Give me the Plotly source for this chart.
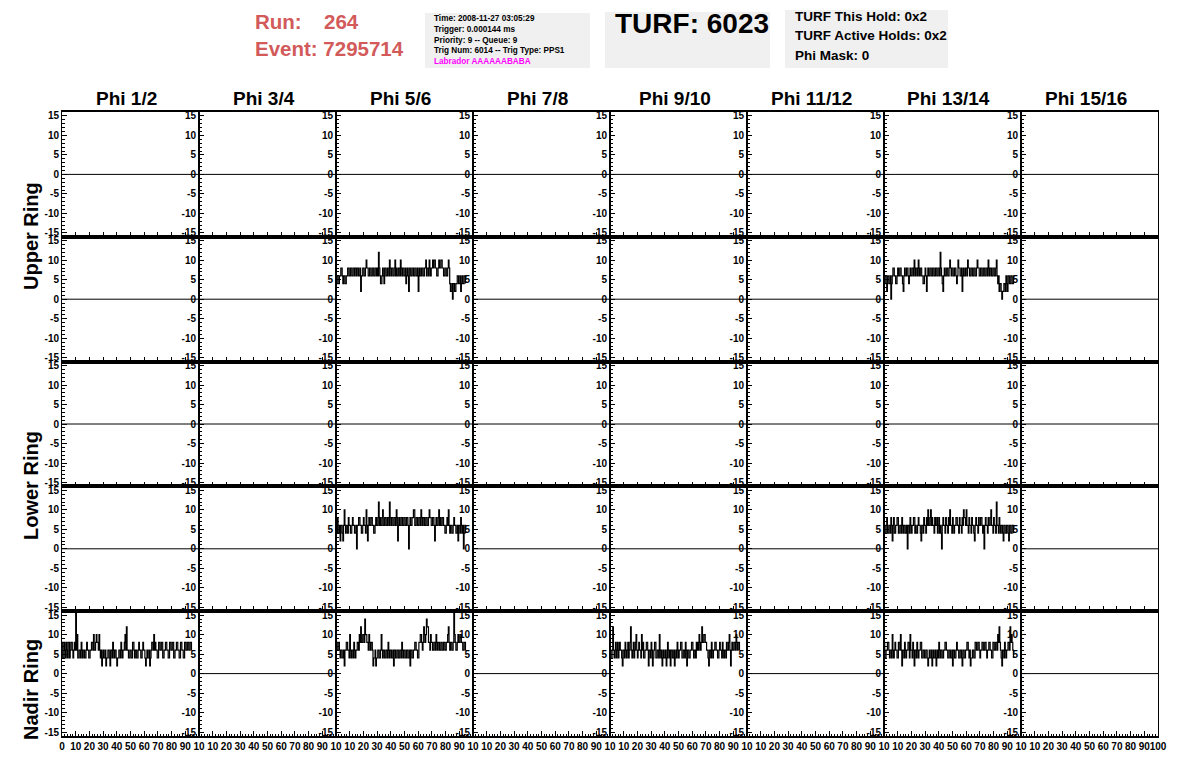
import plotly.graph_objects as go

# The page body keeps its default 8px margin, so the figure is drawn 8px in
# from the window corner; reference pixel p maps to figure pixel p - OFF.
WIN_W, WIN_H = 1196, 772
OFF = 8
FW, FH = WIN_W - 2 * OFF, WIN_H - 2 * OFF

# ---------------- data ----------------
phi_labels = ["Phi 1/2", "Phi 3/4", "Phi 5/6", "Phi 7/8",
              "Phi 9/10", "Phi 11/12", "Phi 13/14", "Phi 15/16"]
ring_labels = ["Upper Ring", "Lower Ring", "Nadir Ring"]

y_ticks = [-15, -10, -5, 0, 5, 10, 15]
y_text = ["-15", "-10", "-5", "0", "5", "10", "15"]
x_ticks = [0, 10, 20, 30, 40, 50, 60, 70, 80, 90, 100]
x_text_first = ["0", "10", "20", "30", "40", "50", "60", "70", "80", "90", "10"]
x_text_mid = ["", "10", "20", "30", "40", "50", "60", "70", "80", "90", "10"]
x_text_last = ["", "10", "20", "30", "40", "50", "60", "70", "80", "90", "100"]

sample_step = 0.5
flat_x = [0, 100]
flat_y = [0, 0]

upper2_phi56 = [
    4, 6, 6, 4, 4, 6, 6, 8, 8, 6, 4, 6, 6, 4, 4, 6,
    6, 8, 8, 6, 6, 8, 8, 6, 6, 8, 8, 6, 8, 8, 6, 8, 8, 6, 6, 8,
    2, 6,
    6, 8, 8, 6, 6, 8, 10, 8, 8, 6, 6, 8,
    8, 6, 6, 8, 8, 6, 6, 8, 8, 6, 8, 6,
    12, 8,
    6, 4, 4, 6, 8, 6, 4, 8,
    8, 6, 6, 8, 8, 6, 10, 8, 6, 8, 8, 6, 6, 8, 10, 6, 8, 6,
    6, 8, 8, 6, 10, 8, 6, 8, 8, 6, 6, 8, 4, 6, 8, 6,
    2, 8,
    8, 6, 6, 8, 8, 6, 6, 8, 8, 6, 6, 8,
    2, 6,
    8, 6, 6, 8, 8, 6, 6, 8, 8, 10, 6, 8, 8, 6, 10, 8, 6, 8, 8, 10,
    8, 10, 10, 8, 8, 6, 6, 8, 10, 8, 8, 10, 10, 8, 8, 6, 6, 8, 8, 6, 6, 8, 10, 8,
    4, 2, 2, 4, 0, 4, 4, 2, 2, 4, 4, 6,
    6, 4, 4, 6, 2, 4, 6, 4, 4, 6, 6, 4]

upper2_phi1314 = [
    4, 6, 6, 4, 2, 6, 6, 4, 4, 6, 0, 4,
    6, 8, 8, 6, 6, 4, 4, 6, 8, 6, 6, 8, 8, 6, 6, 4,
    2, 6,
    8, 6, 6, 8, 8, 6, 4, 6, 8, 6, 6, 8, 8, 6,
    10, 8,
    6, 8, 8, 6, 10, 8, 6, 8, 8, 6, 6, 4, 4, 6, 8, 6,
    2, 6,
    8, 6, 6, 8, 8, 6, 6, 8, 8, 6, 6, 8, 8, 6, 6, 8, 8, 6,
    12, 8,
    6, 4, 2, 6, 8, 6, 6, 8, 8, 6, 6, 8,
    10, 8,
    6, 8, 8, 6, 6, 8, 8, 6, 4, 6,
    10, 8,
    8, 6, 6, 8, 2, 6, 8, 6, 6, 8, 8, 6,
    10, 8,
    8, 6, 6, 8, 8, 6, 6, 8, 8, 6, 6, 8,
    10, 8,
    8, 6, 6, 8, 8, 6, 6, 8, 8, 6, 6, 8, 8, 6, 10, 8, 6, 8, 8, 6, 6, 8, 8, 6, 6, 8,
    10, 6,
    4, 6, 2, 4, 4, 2, 0, 2, 2, 4, 4, 2, 6, 4, 2, 6, 6, 4, 4, 6, 6, 4, 4, 6]

lower2_phi56 = [
    6, 4, 8, 6, 4, 6, 2, 6, 6, 4, 2, 6,
    10, 6,
    4, 6, 6, 4, 8, 6, 6, 4, 4, 6, 8, 6, 6, 4, 4, 6,
    0, 6,
    6, 8, 8, 6, 6, 4, 4, 6, 8, 6, 6, 4,
    10, 6, 2, 6,
    8, 6, 6, 8, 8, 6, 6, 4, 4, 6, 8, 6, 6, 8,
    12, 6,
    8, 6, 6, 8, 10, 6, 6, 8, 8, 6, 6, 8, 8, 6,
    12, 8,
    6, 8, 8, 6, 6, 8, 8, 6, 10, 8,
    2, 6,
    8, 6, 6, 8, 8, 6, 6, 8, 8, 6, 6, 8, 8, 6,
    0, 6,
    8, 6, 6, 8, 8, 10, 10, 6, 6, 8, 8, 6,
    6, 8, 8, 6, 10, 8, 6, 8, 8, 6, 6, 8, 8, 6, 6, 8, 10, 8, 8, 6, 6, 8, 8, 6,
    2, 6,
    8, 6, 6, 8, 10, 6, 8, 6, 6, 8, 8, 6, 6, 4, 4, 6, 8, 6,
    10, 6,
    4, 6, 6, 4, 4, 6, 8, 6, 6, 4, 4, 6, 2, 6, 6, 4, 8, 6, 4, 6,
    0, 4, 6, 4]

lower2_phi1314 = [
    6, 4, 4, 6, 8, 4, 4, 6, 6, 4, 8, 6,
    2, 6,
    8, 4, 4, 6, 6, 8, 8, 4, 4, 6, 6, 4, 8, 6, 4, 6, 6, 4, 4, 6,
    0, 6,
    6, 4, 8, 6, 4, 6, 6, 8, 8, 4, 6, 4, 4, 6, 8, 6, 6, 4, 2, 6, 6, 4, 8, 6, 6, 4, 8, 6,
    10, 6,
    6, 8, 10, 6, 8, 6, 6, 4, 8, 6, 6, 8, 4, 6, 8, 4, 6, 4,
    0, 6,
    8, 6, 6, 4, 8, 6, 6, 4, 8, 6,
    10, 6,
    6, 4, 8, 6, 4, 6, 6, 8, 8, 6, 6, 4, 8, 6, 6, 4, 8, 6,
    10, 8, 8, 6, 10, 6,
    6, 4, 8, 6, 6, 4, 8, 6, 6, 4,
    2, 6,
    8, 6, 6, 4, 8, 6, 6, 8, 8, 6, 4, 6,
    0, 6,
    8, 6, 6, 4, 8, 6, 6, 8, 10, 6, 6, 4, 8, 6, 6, 4,
    12, 6,
    6, 4, 8, 6, 4, 6, 6, 4,
    2, 6,
    6, 4, 4, 6, 6, 4, 2, 6, 6, 4, 4, 6, 6, 4]

nadir_phi12 = [
    8, 4, 4, 8, 6, 4, 8, 6, 4, 8, 8, 4, 6, 8, 8, 6, 4, 6, 8, 6,
    16, 6, 10, 4,
    4, 6, 6, 4, 8, 6, 4, 6, 6, 4, 4, 6, 8, 6, 6, 4, 4, 6, 6, 8, 8, 6,
    10, 6, 6, 8, 10, 8, 8, 6, 10, 6,
    4, 6, 2, 4, 6, 4, 4, 6, 2, 4, 4, 6, 6, 4, 2, 6,
    6, 4, 8, 6, 4, 6, 6, 4, 2, 4,
    4, 6, 6, 4, 8, 6, 4, 6, 6, 8, 10, 6,
    12, 6,
    6, 4, 4, 6, 6, 4, 4, 8, 8, 6, 4, 6, 6, 4, 4, 6, 8, 6, 6, 4, 4, 6, 8, 6, 6, 4,
    2, 4, 6, 4, 4, 6, 2, 4,
    6, 8, 8, 6, 10, 6,
    8, 6, 6, 4, 4, 8, 8, 6, 6, 8, 8, 4, 4, 6, 6, 8, 8, 6, 6, 4, 4, 8, 8, 6, 6, 8,
    8, 4, 4, 6, 6, 8, 8, 6, 6, 4, 4, 8, 8, 6, 6, 4, 4, 8, 8, 6, 6, 8, 8, 6, 6, 8, 8, 6]

nadir_phi56 = [
    8, 6, 6, 8, 8, 6, 4, 6, 6, 4, 4, 6,
    2, 6,
    6, 8, 8, 6, 6, 4,
    10, 6,
    4, 6, 6, 4, 8, 6, 4, 6, 6, 8,
    8, 6, 10, 8, 12, 8, 8, 10, 10, 8, 14, 10, 10, 8,
    8, 6, 10, 8, 6, 8, 8, 6,
    2, 4, 4, 6, 2, 4, 4, 6,
    6, 4, 4, 6, 10, 6,
    4, 6, 6, 4, 4, 6, 6, 4, 8, 6, 4, 6, 6, 4, 4, 6,
    2, 6,
    6, 4, 4, 6, 6, 4, 4, 6, 6, 4, 8, 6, 4, 6, 6, 4, 4, 6, 6, 4, 4, 6,
    2, 6,
    6, 4, 4, 6, 6, 8, 8, 6, 6, 4, 4, 8,
    8, 10, 10, 8, 6, 8, 12, 10, 8, 10, 14, 12, 12, 8, 8, 6, 10, 8,
    8, 6, 6, 8, 8, 6, 10, 8, 6, 8, 8, 6, 6, 8, 8, 6, 6, 8, 8, 6, 6, 8, 8, 10,
    12, 8,
    6, 8, 8, 6, 6, 8,
    16, 10,
    8, 6, 6, 8, 10, 8, 8, 10, 10, 8, 8, 6, 6, 8, 8, 6]

nadir_phi910 = [
    6, 4, 4, 6,
    12, 6,
    4, 6, 8, 4, 6, 8, 4, 6, 8, 6, 6, 4,
    2, 6,
    6, 4, 8, 6, 4, 6, 8, 4, 6, 8,
    12, 6,
    4, 6, 8, 4, 6, 8, 10, 6, 4, 6, 8, 6,
    6, 4, 10, 6, 8, 4, 4, 6, 6, 8, 8, 6,
    2, 6,
    6, 4, 8, 6,
    2, 4,
    6, 8, 8, 4, 4, 6, 6, 4, 10, 6, 4, 6,
    2, 4, 6, 4, 4, 6, 2, 4, 8, 6, 4, 6, 2, 6, 6, 4, 4, 6, 2, 4,
    6, 4, 8, 6, 4, 6, 6, 8, 8, 4, 4, 6, 6, 4, 8, 6,
    2, 6,
    6, 4, 4, 6, 6, 8, 8, 6, 4, 6, 6, 4, 8, 6,
    8, 6, 10, 8, 6, 8, 12, 8, 8, 10, 10, 8, 8, 6,
    6, 4, 2, 6,
    6, 4, 8, 6, 4, 6, 6, 8, 8, 6, 6, 4, 4, 6, 8, 6, 6, 4, 8, 6, 4, 6, 6, 4, 8, 6, 6, 8,
    10, 6, 2, 6,
    8, 6, 6, 8, 8, 6, 10, 8, 6, 8, 8, 6]

nadir_phi1314 = [
    8, 4, 4, 6, 6, 8, 8, 6, 4, 6, 6, 4,
    10, 6,
    4, 6, 8, 6, 6, 4, 4, 8, 8, 6, 10, 6,
    2, 6,
    6, 4, 8, 6, 4, 6, 6, 8, 8, 4,
    10, 6,
    6, 4, 8, 6,
    2, 6,
    6, 4, 8, 6, 4, 6, 6, 8, 8, 4, 4, 6, 6, 4, 4, 6, 6, 4,
    2, 4, 6, 4, 4, 6, 2, 4, 6, 4, 4, 6, 2, 4,
    6, 4, 8, 6, 4, 6, 6, 4, 4, 6, 6, 8, 8, 6, 6, 4, 4, 6, 6, 4, 4, 6,
    2, 6,
    6, 4, 4, 6, 8, 6, 6, 4, 4, 6, 6, 4,
    2, 6,
    6, 4, 4, 6, 6, 8, 8, 6, 4, 6,
    2, 4, 4, 6,
    6, 4, 4, 8, 8, 6, 6, 8, 8, 6, 4, 6, 6, 8, 8, 6, 6, 8, 8, 6, 4, 6, 6, 8,
    8, 6, 6, 4, 4, 8, 8, 6, 6, 8, 8, 6,
    10, 8, 12, 8, 6, 4, 2, 6,
    6, 4, 8, 6, 4, 6, 6, 8, 8, 6,
    12, 8, 10, 8, 6, 4]

# (row, col) -> waveform ; all other panels are flat at zero
waveforms = {
    (1, 2): upper2_phi56,
    (1, 6): upper2_phi1314,
    (3, 2): lower2_phi56,
    (3, 6): lower2_phi1314,
    (4, 0): nadir_phi12,
    (4, 2): nadir_phi56,
    (4, 4): nadir_phi910,
    (4, 6): nadir_phi1314,
}

# ---------------- layout geometry (reference pixels) ----------------
NROWS, NCOLS = 5, 8
LEFT, COLW = 62, 137
TOP, ROWH = 112, 124.8

FONT = "Liberation Sans"
tickfont = dict(family=FONT, size=10, color="black", weight="bold")


def px_x(p):
    return (p - OFF) / FW


def px_y(p):
    return 1 - (p - OFF) / FH


fig = go.Figure()
layout = dict(
    width=FW, height=FH,
    margin=dict(l=0, r=0, t=0, b=0, autoexpand=False),
    paper_bgcolor="white", plot_bgcolor="white",
    showlegend=False,
)

k = 0
for r in range(NROWS):
    for c in range(NCOLS):
        k += 1
        xname = "x" if k == 1 else f"x{k}"
        yname = "y" if k == 1 else f"y{k}"
        xkey = "xaxis" if k == 1 else f"xaxis{k}"
        ykey = "yaxis" if k == 1 else f"yaxis{k}"

        x0 = LEFT + COLW * c
        x1 = x0 + COLW
        y0 = TOP + ROWH * r
        y1 = y0 + ROWH

        bottom = (r == NROWS - 1)
        if c == 0:
            xt = x_text_first
        elif c == NCOLS - 1:
            xt = x_text_last
        else:
            xt = x_text_mid

        layout[xkey] = dict(
            domain=[px_x(x0), px_x(x1)], anchor=yname, range=[0, 100],
            showline=True, linecolor="black", linewidth=1.5, mirror=True,
            showgrid=False, zeroline=False, automargin=False,
            ticks="inside", ticklen=5, tickwidth=1, tickcolor="black",
            tickmode="array", tickvals=x_ticks, ticktext=xt,
            showticklabels=bottom, tickangle=0, tickfont=tickfont,
            minor=dict(ticks="inside", tick0=0, dtick=2, ticklen=2,
                       tickcolor="black", showgrid=False),
            fixedrange=True,
        )
        layout[ykey] = dict(
            domain=[px_y(y1), px_y(y0)], anchor=xname, range=[-16, 16],
            showline=True, linecolor="black", linewidth=1, mirror=True,
            showgrid=False, zeroline=False, automargin=False,
            ticks="inside", ticklen=5, tickwidth=1, tickcolor="black",
            tickmode="array", tickvals=y_ticks, ticktext=y_text,
            tickfont=tickfont,
            minor=dict(ticks="inside", tick0=0, dtick=1, ticklen=2.5,
                       tickcolor="black", showgrid=False),
            fixedrange=True,
        )

        if (r, c) in waveforms:
            vals = waveforms[(r, c)]
            xs = [i * sample_step for i in range(len(vals))]
            fig.add_trace(go.Scatter(
                x=xs, y=vals, mode="lines",
                line=dict(color="black", width=1.2, shape="hv"),
                xaxis=xname, yaxis=yname, hoverinfo="skip"))
        else:
            fig.add_trace(go.Scatter(
                x=flat_x, y=flat_y, mode="lines",
                line=dict(color="black", width=1),
                xaxis=xname, yaxis=yname, hoverinfo="skip"))

annotations = []
# column titles
for c, lab in enumerate(phi_labels):
    annotations.append(dict(
        text=lab, x=px_x(LEFT + COLW * (c + 0.5) - 4), y=px_y(98),
        xref="paper", yref="paper", showarrow=False,
        xanchor="center", yanchor="middle",
        font=dict(family=FONT, size=19, color="black", weight="bold")))

# ring labels
ring_centers = [236, 486, 690]
for lab, yc in zip(ring_labels, ring_centers):
    annotations.append(dict(
        text=lab, x=px_x(31), y=px_y(yc),
        xref="paper", yref="paper", showarrow=False, textangle=-90,
        xanchor="center", yanchor="middle",
        font=dict(family=FONT, size=20, color="black", weight="bold")))

red = "#D25A5A"
hdr = [("Run:", 253, 22), ("264", 322, 22), ("Event: 7295714", 253, 49)]
for t, xp, yp in hdr:
    annotations.append(dict(
        text=t, x=px_x(xp), y=px_y(yp), xref="paper", yref="paper",
        showarrow=False, xanchor="left", yanchor="middle",
        font=dict(family=FONT, size=20.5, color=red, weight="bold")))

info_lines = ["Time: 2008-11-27 03:05:29", "Trigger: 0.000144 ms",
              "Priority: 9 -- Queue: 9", "Trig Num: 6014 -- Trig Type: PPS1",
              "Labrador AAAAAABABA"]
for i, t in enumerate(info_lines):
    annotations.append(dict(
        text=t, x=px_x(432), y=px_y(18 + 11 * i), xref="paper", yref="paper",
        showarrow=False, xanchor="left", yanchor="middle",
        font=dict(family=FONT, size=8.2, weight="bold",
                  color="#FF00FF" if i == 4 else "black")))

annotations.append(dict(
    text="TURF: 6023", x=px_x(692), y=px_y(23), xref="paper", yref="paper",
    showarrow=False, xanchor="center", yanchor="middle",
    font=dict(family=FONT, size=28, color="black", weight="bold")))

turf_lines = ["TURF This Hold: 0x2", "TURF Active Holds: 0x2", "Phi Mask: 0"]
for i, t in enumerate(turf_lines):
    annotations.append(dict(
        text=t, x=px_x(793), y=px_y(17 + 19 * i), xref="paper", yref="paper",
        showarrow=False, xanchor="left", yanchor="middle",
        font=dict(family=FONT, size=13.5, color="black", weight="bold")))

shapes = []
for (bx0, by0, bx1, by1) in [(425, 13, 590, 68), (605, 12, 770, 68), (785, 10, 948, 68)]:
    shapes.append(dict(type="rect", xref="paper", yref="paper",
                       x0=px_x(bx0), x1=px_x(bx1), y0=px_y(by1), y1=px_y(by0),
                       fillcolor="#F0F0F0", line=dict(width=0), layer="below"))

layout["annotations"] = annotations
layout["shapes"] = shapes
fig.update_layout(**layout)

fig.write_html("out.html")
